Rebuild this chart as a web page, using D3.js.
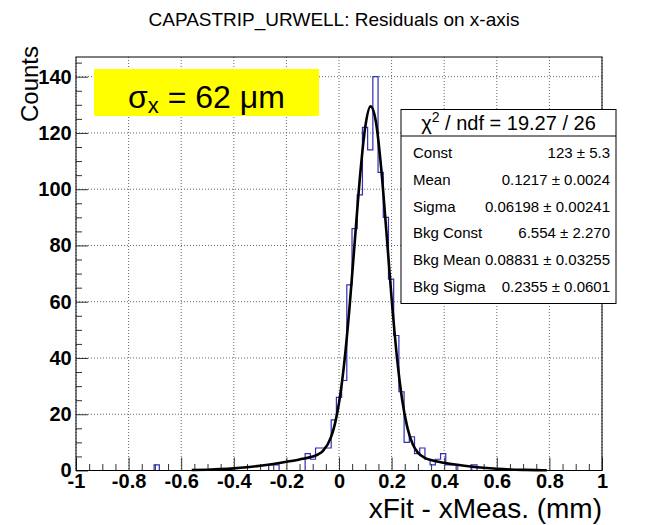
<!DOCTYPE html>
<html>
<head>
<meta charset="utf-8">
<script src="https://cdn.jsdelivr.net/npm/d3@7"></script>
<style>
  body { margin: 0; background: #fff; }
  svg { display: block; }
  text { font-family: "Liberation Sans", Arial, Helvetica, sans-serif; }
</style>
</head>
<body>
<script>
// Histogram: 101 bins between xLow and xHigh
const xLow = -1
const xHigh = 1
const binCounts = [
  0, 0, 0, 0, 0, 0, 0, 0, 0, 0,
  0, 0, 0, 0, 0, 2, 0, 0, 0, 0,
  0, 0, 0, 0, 0, 0, 0, 0, 0, 0,
  0, 0, 0, 0, 0, 0, 0, 2, 2, 0,
  0, 0, 0, 0, 6, 4, 8, 8, 8, 18,
  26, 32, 66, 86, 98, 122, 114, 140, 106, 90,
  68, 48, 28, 10, 12, 6, 8, 4, 2, 4,
  6, 2, 2, 0, 0, 0, 2, 0, 0, 0,
  0, 0, 0, 0, 0, 0, 0, 0, 0, 0,
  0, 0, 0, 0, 0, 0, 0, 0, 0, 0,
  0
]

// Fit curve
const fitX = [-0.56, -0.5, -0.45, -0.4, -0.35, -0.3, -0.25, -0.2, -0.15, -0.1, -0.08, -0.06,
  -0.03, -0.015, 0, 0.02, 0.04, 0.06, 0.08, 0.1, 0.12, 0.14, 0.16, 0.18, 0.2, 0.22, 0.24,
  0.26, 0.28, 0.3, 0.33, 0.36, 0.4, 0.45, 0.5, 0.55, 0.6, 0.65, 0.7, 0.75, 0.79]
const fitY = [0.15, 0.29, 0.48, 0.76, 1.16, 1.68, 2.34, 3.1, 3.94, 4.97, 5.69, 7.05,
  11.93, 16.75, 24.0, 38.28, 58.01, 81.46, 104.64, 122.25, 129.45, 124.15, 107.86, 85.11, 61.23, 40.58, 25.23,
  15.23, 9.42, 6.34, 4.31, 3.45, 2.73, 2.02, 1.42, 0.96, 0.62, 0.38, 0.23, 0.13, 0.08]

const xTickValues = [-1, -0.8, -0.6, -0.4, -0.2, 0, 0.2, 0.4, 0.6, 0.8, 1]
const xTickLabels = ["-1", "-0.8", "-0.6", "-0.4", "-0.2", "0", "0.2", "0.4", "0.6", "0.8", "1"]
const yTickValues = [0, 20, 40, 60, 80, 100, 120, 140]
const yMax = 147

const statNames = ["Const", "Mean", "Sigma", "Bkg Const", "Bkg Mean", "Bkg Sigma"]
const statValues = ["123 \u00b1 5.3", "0.1217 \u00b1 0.0024", "0.06198 \u00b1 0.00241",
  "6.554 \u00b1 2.270", "0.08831 \u00b1 0.03255", "0.2355 \u00b1 0.0601"]

const titleText = "CAPASTRIP_URWELL: Residuals on x-axis"

// Sizing

let width = 668
let height = 525

let margin = {
    left: 76,
    top: 57,
    right: 66,
    bottom: 54.5
}

let chartWidth = width - margin.left - margin.right
let chartHeight = height - margin.top - margin.bottom

let svg = d3.select('body')
    .append('svg')
    .attr('width', width)
    .attr('height', height)

let chartGroup = svg.append('g')
    .attr('transform', `translate(${margin.left}, ${margin.top})`)

let xScale = d3.scaleLinear()
    .domain([xLow, xHigh])
    .range([0, chartWidth])

let yScale = d3.scaleLinear()
    .domain([0, yMax])
    .range([chartHeight, 0])

// Grid
chartGroup.append('g')
    .selectAll('line')
    .data(xTickValues)
    .join('line')
    .attr('x1', d => xScale(d))
    .attr('x2', d => xScale(d))
    .attr('y1', 0)
    .attr('y2', chartHeight)
    .attr('stroke', '#666')
    .attr('stroke-dasharray', '1,2')

chartGroup.append('g')
    .selectAll('line')
    .data(yTickValues)
    .join('line')
    .attr('x1', 0)
    .attr('x2', chartWidth)
    .attr('y1', d => yScale(d))
    .attr('y2', d => yScale(d))
    .attr('stroke', '#666')
    .attr('stroke-dasharray', '1,2')

// Minor ticks
let xMinor = d3.range(-20, 21).map(i => i * 0.05).filter(v => Math.abs(Math.round(v * 5) - v * 5) > 1e-6)
let yMinor = d3.range(0, 30).map(i => i * 5).filter(v => v % 20 !== 0)

chartGroup.append('g')
    .attr('transform', `translate(0, ${chartHeight})`)
    .call(d3.axisBottom(xScale).tickValues(xMinor).tickSize(-6.5).tickFormat(''))
    .call(g => g.select('.domain').remove())
    .call(g => g.selectAll('line').attr('stroke', '#333'))

chartGroup.append('g')
    .call(d3.axisLeft(yScale).tickValues(yMinor).tickSize(-6).tickFormat(''))
    .call(g => g.select('.domain').remove())
    .call(g => g.selectAll('line').attr('stroke', '#333'))

// Major axes
chartGroup.append('g')
    .attr('transform', `translate(0, ${chartHeight})`)
    .call(d3.axisBottom(xScale).tickValues(xTickValues).tickSize(-13).tickPadding(3.6)
        .tickFormat((d, i) => xTickLabels[i]))
    .call(g => g.select('.domain').remove())
    .call(g => g.selectAll('line').attr('stroke', '#333'))
    .call(g => g.selectAll('text')
        .attr('fill', '#000')
        .style('font-size', '20px')
        .style('font-weight', 'bold'))

chartGroup.append('g')
    .call(d3.axisLeft(yScale).tickValues(yTickValues).tickSize(-12).tickPadding(4.3))
    .call(g => g.select('.domain').remove())
    .call(g => g.selectAll('line').attr('stroke', '#333'))
    .call(g => g.selectAll('text')
        .attr('fill', '#000')
        .style('font-size', '20px')
        .style('font-weight', 'bold'))

// Histogram outline
let binWidth = (xHigh - xLow) / binCounts.length
let stepPoints = binCounts.map((c, i) => [xLow + i * binWidth, c])
stepPoints.push([xHigh, binCounts[binCounts.length - 1]])

chartGroup.append('path')
    .datum(stepPoints)
    .attr('fill', 'none')
    .attr('stroke', '#2e2eb8')
    .attr('stroke-width', 1.2)
    .attr('d', d3.line()
        .x(d => xScale(d[0]))
        .y(d => yScale(d[1]))
        .curve(d3.curveStepAfter))

// Fit curve
chartGroup.append('path')
    .datum(fitX.map((x, i) => [x, fitY[i]]))
    .attr('fill', 'none')
    .attr('stroke', '#000')
    .attr('stroke-width', 2.6)
    .attr('stroke-linejoin', 'round')
    .attr('d', d3.line()
        .x(d => xScale(d[0]))
        .y(d => yScale(d[1]))
        .curve(d3.curveMonotoneX))

// Frame
chartGroup.append('rect')
    .attr('width', chartWidth)
    .attr('height', chartHeight)
    .attr('fill', 'none')
    .attr('stroke', '#000')

// Title and axis titles
svg.append('text')
    .attr('x', 334)
    .attr('y', 26)
    .attr('text-anchor', 'middle')
    .style('font-size', '19px')
    .text(titleText)

svg.append('text')
    .attr('transform', 'translate(38, 46) rotate(-90)')
    .attr('text-anchor', 'end')
    .style('font-size', '24px')
    .text('Counts')

svg.append('text')
    .attr('x', 602)
    .attr('y', 518)
    .attr('text-anchor', 'end')
    .style('font-size', '28px')
    .text('xFit - xMeas. (mm)')

// Yellow label
svg.append('rect')
    .attr('x', 94)
    .attr('y', 69)
    .attr('width', 225)
    .attr('height', 47)
    .attr('fill', '#ffff00')

let sigmaLabel = svg.append('text')
    .attr('x', 206.5)
    .attr('y', 108.3)
    .attr('text-anchor', 'middle')
    .style('font-size', '32px')
sigmaLabel.append('tspan').text('\u03c3')
sigmaLabel.append('tspan').attr('dy', 5).style('font-size', '22px').text('x')
sigmaLabel.append('tspan').attr('dy', -5).text(' = 62 \u03bcm')

// Stats box
let boxLeft = 401
let boxRight = 616

let stats = svg.append('g')

stats.append('rect')
    .attr('x', boxLeft)
    .attr('y', 109.5)
    .attr('width', boxRight - boxLeft)
    .attr('height', 194)
    .attr('fill', '#fff')
    .attr('stroke', '#000')

stats.append('line')
    .attr('x1', boxLeft)
    .attr('x2', boxRight)
    .attr('y1', 136)
    .attr('y2', 136)
    .attr('stroke', '#000')

let header = stats.append('text')
    .attr('x', (boxLeft + boxRight) / 2)
    .attr('y', 129.5)
    .attr('text-anchor', 'middle')
    .style('font-size', '20px')
header.append('tspan').text('\u03c7')
header.append('tspan').attr('dy', -8).style('font-size', '14px').text('2')
header.append('tspan').attr('dy', 8).text(' / ndf = 19.27 / 26')

stats.selectAll('.stat-name')
    .data(statNames)
    .join('text')
    .attr('class', 'stat-name')
    .attr('x', 413)
    .attr('y', (d, i) => 158.3 + i * 26.7)
    .style('font-size', '15px')
    .text(d => d)

stats.selectAll('.stat-value')
    .data(statValues)
    .join('text')
    .attr('class', 'stat-value')
    .attr('x', boxRight - 6)
    .attr('y', (d, i) => 158.3 + i * 26.7)
    .attr('text-anchor', 'end')
    .style('font-size', '15px')
    .text(d => d)
</script>
</body>
</html>
